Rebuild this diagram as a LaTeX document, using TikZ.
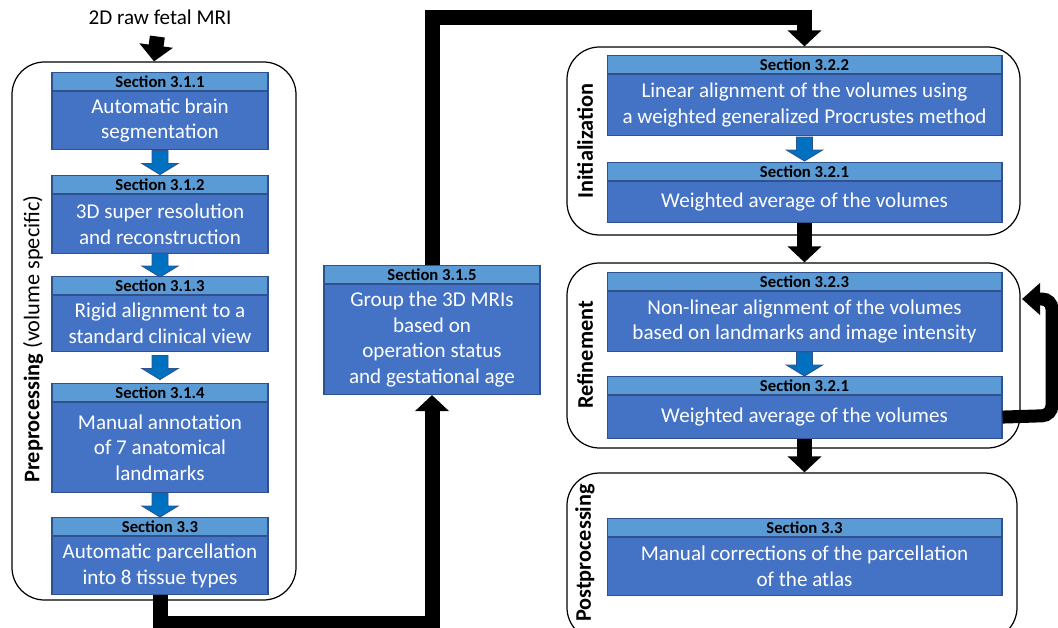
\documentclass[tikz,border=0pt]{standalone}
\usepackage{fontspec}
\setmainfont{Carlito}
\usetikzlibrary{arrows.meta, positioning, fit, calc}
\usepackage{xcolor}
\definecolor{headblue}{HTML}{5B9BD5}
\definecolor{bodyblue}{HTML}{4472C4}
\definecolor{edgeblue}{HTML}{2F528F}
\definecolor{arrowblue}{HTML}{0070C0}

\begin{document}
\begin{tikzpicture}[
    x=0.02cm, y=-0.02cm,
    every node/.style={font=\fontsize{12}{14.6}\selectfont},
    head/.style={draw=edgeblue, fill=headblue, line width=0.6pt, anchor=north, minimum height=0.36cm, inner sep=0pt, font=\fontsize{9.5}{11}\selectfont\bfseries},
    body/.style={draw=edgeblue, fill=bodyblue, line width=0.6pt, inner sep=0pt, text=white, align=center},
    narrow/.style={minimum width=4.32cm},
    wide/.style={minimum width=7.9cm},
    stage/.style={draw, line width=0.7pt, rounded corners=0.65cm, inner sep=0pt},
    stagelabel/.style={rotate=90, font=\fontsize{12.7}{15}\selectfont\bfseries},
    flow/.style={draw, line width=0.3cm, line join=miter, -{Triangle[width=0.66cm, length=0.32cm]}},
    loopflow/.style={draw, line width=0.26cm, rounded corners=0.2cm, -{Triangle[width=0.62cm, length=0.36cm]}},
    down/.pic={\draw[draw=edgeblue, fill=arrowblue, line width=0.5pt] (-8,-12) -- (8,-12) -- (8,1) -- (18,1) -- (0,12) -- (-18,1) -- (-8,1) -- cycle;}
]
\useasboundingbox (0,0) rectangle (1058,628);

\node[stage, fit={(12,62) (296,600)}] (pre) {};
\node[stage, fit={(567,47) (1020,235)}] (init) {};
\node[stage, fit={(567,263) (1020,448)}] (ref) {};
\node[stage, fit={(567,473) (1017,640)}] (post) {};

\node[stagelabel] (prelabel) at (33,339) {Preprocessing {\mdseries (volume specific)}};
\node[stagelabel] (initlabel) at (585,141) {Initialization};
\node[stagelabel] (reflabel) at (585,355) {Refinement};
\node[stagelabel] (postlabel) at (585,553) {Postprocessing};

\node (input) at (160,17) {2D raw fetal MRI};

\node[head, narrow] (pp1h) at (160,72) {Section 3.1.1};
\node[body, narrow, minimum height=1.16cm, below=0pt of pp1h] (pp1) {Automatic brain\\segmentation};
\node[head, narrow] (pp2h) at (160,175) {Section 3.1.2};
\node[body, narrow, minimum height=1.18cm, below=0pt of pp2h] (pp2) {3D super resolution\\and reconstruction};
\node[head, narrow] (pp3h) at (160,276) {Section 3.1.3};
\node[body, narrow, minimum height=1.12cm, below=0pt of pp3h] (pp3) {Rigid alignment to a\\standard clinical view};
\node[head, narrow] (pp4h) at (160,383) {Section 3.1.4};
\node[body, narrow, minimum height=1.8cm, below=0pt of pp4h] (pp4) {Manual annotation\\of 7 anatomical\\landmarks};
\node[head, narrow] (pp5h) at (160,517) {Section 3.3};
\node[body, narrow, minimum height=1.16cm, below=0pt of pp5h] (pp5) {Automatic parcellation\\into 8 tissue types};

\node[head, narrow] (grph) at (432,265) {Section 3.1.5};
\node[body, narrow, minimum height=2.2cm, below=0pt of grph] (grp) {Group the 3D MRIs\\based on\\operation status\\and gestational age};

\node[head, wide] (i1h) at (804.5,55) {Section 3.2.2};
\node[body, wide, minimum height=1.22cm, below=0pt of i1h] (i1) {Linear alignment of the volumes using\\a weighted generalized Procrustes method};
\node[head, wide] (i2h) at (804.5,162) {Section 3.2.1};
\node[body, wide, minimum height=0.82cm, below=0pt of i2h] (i2) {Weighted average of the volumes};

\node[head, wide] (r1h) at (804.5,272) {Section 3.2.3};
\node[body, wide, minimum height=1.2cm, below=0pt of r1h] (r1) {Non-linear alignment of the volumes\\based on landmarks and image intensity};
\node[head, wide] (r2h) at (804.5,376) {Section 3.2.1};
\node[body, wide, minimum height=0.86cm, below=0pt of r2h] (r2) {Weighted average of the volumes};

\node[head, wide] (p1h) at (804.5,518) {Section 3.3};
\node[body, wide, minimum height=1.16cm, below=0pt of p1h] (p1) {Manual corrections of the parcellation\\of the atlas};

\foreach \a/\b in {pp1/pp2h, pp2/pp3h, pp3/pp4h, pp4/pp5h, i1/i2h, r1/r2h}
    \pic (\a-\b) at ($(\a.south)!0.5!(\b.north)$) {down};

\coordinate (back) at (1022,299);

\draw[flow, shorten <=0.12cm] (input) -- (pre.north);
\draw[flow] (pp5.south) -- ++(0,28) -| (grp.south);
\draw[flow] (grph.north) -- ++(0,-247) -| (i1h.north |- init.north);
\draw[flow] (i2.south) -- (i2.south |- ref.north);
\draw[flow] (r2.south) -- (r2.south |- post.north);
\draw[loopflow] (r2.east) -- (1052,415.5) -- (1052,299) -- (back);
\end{tikzpicture}
\end{document}
